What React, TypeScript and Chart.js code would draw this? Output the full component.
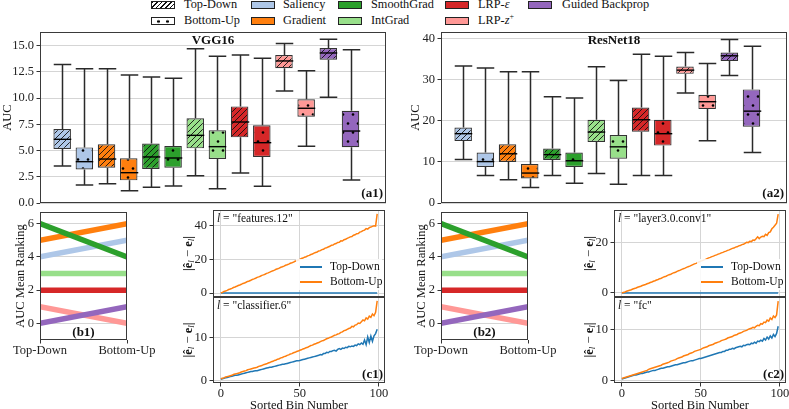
import React, { useEffect, useRef } from "react";
import { Chart, registerables } from "chart.js";

Chart.register(...registerables);

const FONT = "'Liberation Serif', 'Times New Roman', serif";
Chart.defaults.font.family = FONT;
Chart.defaults.font.size = 12;
Chart.defaults.color = "#222";

// ---------------- data ----------------
const legendLabels = ["Top-Down", "Bottom-Up", "Saliency", "Gradient", "SmoothGrad", "IntGrad", "LRP-ε", "LRP-z+", "Guided Backprop"];
const methods = ["Saliency", "Gradient", "SmoothGrad", "IntGrad", "LRP-ε", "LRP-z+", "Guided Backprop"];
const methodColors = ["#aec7e8", "#ff7f0e", "#2ca02c", "#98df8a", "#d62728", "#ff9896", "#9467bd"];

// box order: for each method Top-Down then Bottom-Up
const boxPositions = [1, 2, 3, 4, 5, 6, 7, 8, 9, 10, 11, 12, 13, 14];

const vggHigh = [13.2, 12.8, 12.8, 12.2, 12.0, 11.9, 14.7, 14.0, 14.1, 13.8, 15.2, 12.6, 15.6, 14.6];
const vggQ3 = [7.05, 5.3, 5.6, 4.26, 5.66, 5.43, 8.07, 6.93, 9.21, 7.4, 14.11, 9.88, 14.78, 8.8];
const vggMed = [6.07, 3.94, 4.19, 2.89, 4.39, 4.29, 6.45, 5.37, 7.72, 5.75, 13.54, 9.03, 14.3, 6.86];
const vggQ1 = [5.15, 3.2, 3.37, 2.16, 3.24, 3.37, 5.21, 4.19, 6.26, 4.39, 12.84, 8.23, 13.66, 5.31];
const vggLow = [3.53, 1.72, 1.84, 1.17, 1.49, 1.62, 2.6, 1.37, 2.86, 1.59, 10.68, 5.4, 10.08, 2.19];

const resHigh = [33.4, 32.9, 32.0, 32.0, 25.9, 25.6, 33.2, 29.9, 36.3, 35.8, 36.7, 34.0, 39.9, 38.2];
const resQ3 = [18.4, 12.3, 14.3, 9.5, 13.3, 12.3, 20.3, 16.6, 23.3, 20.3, 33.3, 26.4, 36.7, 27.7];
const resMed = [16.9, 10.1, 12.0, 7.3, 11.8, 10.3, 17.3, 13.7, 20.3, 16.9, 32.4, 24.7, 35.9, 22.4];
const resQ1 = [15.1, 8.8, 10.0, 6.0, 10.5, 8.8, 14.9, 10.8, 17.4, 14.0, 31.5, 22.9, 34.6, 18.6];
const resLow = [10.6, 6.7, 5.7, 3.8, 6.7, 4.8, 7.2, 4.6, 6.7, 6.7, 26.8, 15.2, 31.1, 12.3];

const vggYTicks = [0, 2.5, 5, 7.5, 10, 12.5, 15];
const resYTicks = [0, 10, 20, 30, 40];

// mean ranking (per method, in legend order)
const rankXLabels = ["Top-Down", "Bottom-Up"];
const vggRankTD = [4, 5, 6, 3, 2, 1, 0];
const vggRankBU = [5, 6, 4, 3, 2, 0, 1];
const resRankTD = [4, 5, 6, 3, 2, 1, 0];
const resRankBU = [5, 6, 4, 3, 2, 0, 1];
const rankYTicks = [0, 2, 4, 6];

// error curves per sorted bin
const bins = Array.from({ length: 100 }, (_, i) => i);
const binTicks = [0, 50, 100];

const vggFeatTD = [
  0, 0, 0, 0, 0, 0, 0, 0, 0, 0, 0, 0, 0, 0, 0, 0, 0, 0, 0, 0,
  0, 0, 0, 0, 0, 0, 0, 0, 0, 0, 0, 0, 0, 0, 0, 0, 0, 0, 0, 0,
  0, 0, 0, 0, 0, 0, 0, 0, 0, 0, 0, 0, 0, 0, 0, 0, 0, 0, 0, 0,
  0, 0, 0, 0, 0, 0, 0, 0, 0, 0, 0, 0, 0, 0, 0, 0, 0, 0, 0, 0,
  0, 0, 0, 0, 0, 0, 0, 0, 0, 0, 0, 0, 0, 0, 0, 0, 0, 0, 0, 0,
];
const vggFeatBU = [
  0.0, 0.4, 0.9, 1.2, 1.6, 2.1, 2.4, 2.8, 3.3, 3.6,
  4.0, 4.5, 4.8, 5.2, 5.7, 6.0, 6.4, 6.9, 7.2, 7.6,
  8.1, 8.4, 8.8, 9.3, 9.6, 10.0, 10.5, 10.8, 11.2, 11.7,
  12.0, 12.4, 12.9, 13.2, 13.6, 14.1, 14.4, 14.8, 15.3, 15.6,
  16.0, 16.5, 16.8, 17.2, 17.7, 18.0, 18.4, 18.9, 19.2, 19.6,
  20.0, 20.5, 20.8, 21.3, 21.6, 22.1, 22.4, 22.9, 23.2, 23.7,
  24.1, 24.4, 25.0, 25.2, 25.8, 26.0, 26.7, 26.9, 27.4, 27.8,
  28.4, 28.5, 29.2, 29.4, 30.1, 30.2, 31.0, 30.9, 31.7, 32.0,
  32.5, 32.9, 33.4, 33.6, 34.4, 34.6, 35.3, 35.4, 36.2, 36.5,
  37.1, 37.4, 38.3, 38.0, 38.9, 39.2, 39.6, 40.0, 39.8, 47.0,
];
const vggClsTD = [
  0.3, 0.4, 0.5, 0.6, 0.7, 0.8, 0.9, 1.0, 1.1, 1.2,
  1.2, 1.3, 1.4, 1.5, 1.6, 1.7, 1.8, 1.9, 2.0, 2.1,
  2.1, 2.2, 2.3, 2.3, 2.4, 2.5, 2.6, 2.7, 2.8, 2.9,
  3.0, 3.1, 3.1, 3.2, 3.3, 3.4, 3.5, 3.6, 3.7, 3.8,
  3.8, 3.9, 4.0, 4.1, 4.2, 4.3, 4.4, 4.5, 4.6, 4.6,
  4.7, 4.8, 4.9, 5.0, 5.1, 5.2, 5.3, 5.4, 5.5, 5.6,
  5.7, 5.8, 5.9, 6.1, 6.0, 6.3, 6.3, 6.6, 6.5, 6.8,
  6.8, 7.0, 7.1, 6.9, 7.3, 7.5, 7.3, 7.6, 7.5, 7.8,
  7.7, 8.0, 7.9, 8.1, 8.0, 8.3, 8.2, 8.6, 8.4, 8.8,
  8.5, 9.5, 8.4, 10.2, 8.9, 10.4, 9.2, 10.5, 11.0, 12.0,
];
const vggClsBU = [
  0.4, 0.5, 0.6, 0.8, 0.9, 1.0, 1.1, 1.2, 1.4, 1.5,
  1.6, 1.7, 1.8, 2.0, 2.1, 2.2, 2.3, 2.5, 2.6, 2.7,
  2.8, 2.9, 3.0, 3.1, 3.3, 3.4, 3.5, 3.7, 3.8, 3.9,
  4.1, 4.2, 4.4, 4.5, 4.7, 4.8, 5.0, 5.1, 5.3, 5.4,
  5.6, 5.7, 5.9, 6.0, 6.2, 6.3, 6.5, 6.6, 6.8, 6.9,
  7.1, 7.2, 7.4, 7.5, 7.7, 7.8, 8.0, 8.2, 8.3, 8.5,
  8.6, 8.8, 8.9, 9.1, 9.3, 9.4, 9.6, 9.8, 9.9, 10.1,
  10.2, 10.4, 10.6, 10.7, 10.9, 11.0, 11.3, 11.4, 11.7, 11.8,
  12.0, 12.2, 12.3, 12.7, 12.6, 13.0, 13.1, 13.5, 13.4, 13.8,
  14.2, 14.0, 14.7, 14.4, 15.1, 14.8, 15.6, 15.2, 16.0, 18.7,
];
const resConvTD = [
  0, 0, 0, 0, 0, 0, 0, 0, 0, 0, 0, 0, 0, 0, 0, 0, 0, 0, 0, 0,
  0, 0, 0, 0, 0, 0, 0, 0, 0, 0, 0, 0, 0, 0, 0, 0, 0, 0, 0, 0,
  0, 0, 0, 0, 0, 0, 0, 0, 0, 0, 0, 0, 0, 0, 0, 0, 0, 0, 0, 0,
  0, 0, 0, 0, 0, 0, 0, 0, 0, 0, 0, 0, 0, 0, 0, 0, 0, 0, 0, 0,
  0, 0, 0, 0, 0, 0, 0, 0, 0, 0, 0, 0, 0, 0, 0, 0, 0, 0, 0, 0,
];
const resConvBU = [
  0.0, 0.2, 0.4, 0.7, 0.9, 1.1, 1.3, 1.6, 1.8, 2.0,
  2.3, 2.5, 2.7, 3.0, 3.2, 3.4, 3.7, 3.9, 4.2, 4.4,
  4.7, 4.9, 5.2, 5.4, 5.7, 5.9, 6.2, 6.5, 6.7, 7.0,
  7.3, 7.5, 7.8, 8.1, 8.3, 8.6, 8.9, 9.1, 9.4, 9.7,
  9.9, 10.2, 10.5, 10.7, 11.0, 11.3, 11.6, 11.8, 12.1, 12.4,
  12.7, 12.9, 13.2, 13.4, 13.7, 14.0, 14.2, 14.5, 14.7, 15.0,
  15.2, 15.5, 15.7, 16.0, 16.2, 16.5, 16.7, 17.0, 17.2, 17.5,
  17.8, 17.9, 18.3, 18.4, 18.8, 18.9, 19.3, 19.4, 19.8, 20.2,
  20.1, 20.6, 20.5, 21.1, 21.0, 21.6, 22.4, 21.7, 22.3, 22.6,
  22.5, 23.4, 23.0, 24.1, 24.4, 25.6, 26.2, 27.0, 27.8, 31.5,
];
const resFcTD = [
  0.3, 0.4, 0.5, 0.6, 0.7, 0.8, 0.9, 1.0, 1.1, 1.1,
  1.2, 1.3, 1.4, 1.4, 1.5, 1.6, 1.7, 1.7, 1.8, 1.9,
  2.0, 2.0, 2.1, 2.2, 2.3, 2.4, 2.4, 2.5, 2.6, 2.7,
  2.7, 2.8, 2.9, 3.0, 3.1, 3.1, 3.2, 3.3, 3.4, 3.5,
  3.5, 3.6, 3.7, 3.8, 3.9, 3.9, 4.0, 4.1, 4.2, 4.3,
  4.3, 4.4, 4.5, 4.6, 4.7, 4.8, 4.9, 5.0, 5.1, 5.2,
  5.3, 5.4, 5.5, 5.5, 5.7, 5.7, 5.9, 5.9, 6.1, 6.1,
  6.3, 6.2, 6.4, 6.5, 6.6, 6.7, 6.6, 6.9, 6.8, 7.0,
  7.1, 7.0, 7.3, 7.2, 7.5, 7.3, 7.7, 7.6, 7.9, 7.7,
  8.2, 7.9, 8.5, 8.1, 8.7, 8.3, 9.0, 8.6, 9.2, 10.6,
];
const resFcBU = [
  0.4, 0.5, 0.6, 0.7, 0.8, 0.9, 1.0, 1.1, 1.2, 1.3,
  1.4, 1.5, 1.6, 1.7, 1.8, 1.9, 2.0, 2.2, 2.3, 2.4,
  2.5, 2.6, 2.7, 2.8, 2.9, 3.0, 3.2, 3.3, 3.4, 3.5,
  3.6, 3.8, 3.9, 4.0, 4.1, 4.3, 4.4, 4.5, 4.6, 4.8,
  4.9, 5.0, 5.1, 5.3, 5.4, 5.5, 5.7, 5.8, 5.9, 6.0,
  6.1, 6.3, 6.4, 6.5, 6.6, 6.8, 6.9, 7.0, 7.1, 7.3,
  7.4, 7.5, 7.6, 7.8, 7.9, 8.0, 8.1, 8.3, 8.4, 8.5,
  8.6, 8.8, 8.9, 9.0, 9.2, 9.3, 9.4, 9.6, 9.7, 9.8,
  10.0, 10.1, 10.2, 10.4, 10.3, 10.6, 10.8, 10.7, 11.1, 11.0,
  11.4, 11.3, 11.8, 11.6, 12.2, 11.9, 12.6, 12.3, 12.8, 15.5,
];

// ---------------- styling helpers ----------------
const GRID = "#d5d5d5";
const AXIS = "#333";
const TD_COLOR = "#1f77b4";
const BU_COLOR = "#ff7f0e";
const f = (size: number, weight: string = "normal") => ({ family: FONT, size, weight });

function hatchPattern(color: string) {
  const c = document.createElement("canvas");
  c.width = 6;
  c.height = 6;
  const g = c.getContext("2d")!;
  g.fillStyle = color;
  g.fillRect(0, 0, 6, 6);
  g.strokeStyle = "#111";
  g.lineWidth = 0.9;
  g.beginPath();
  g.moveTo(0, 6); g.lineTo(6, 0);
  g.moveTo(-1, 1); g.lineTo(1, -1);
  g.moveTo(5, 7); g.lineTo(7, 5);
  g.stroke();
  return g.createPattern(c, "repeat")!;
}

function dotPattern(color: string) {
  const c = document.createElement("canvas");
  c.width = 10;
  c.height = 18;
  const g = c.getContext("2d")!;
  g.fillStyle = color;
  g.fillRect(0, 0, 10, 18);
  g.fillStyle = "#000";
  g.beginPath(); g.arc(3, 4.5, 1.3, 0, Math.PI * 2); g.fill();
  g.beginPath(); g.arc(8, 13.5, 1.3, 0, Math.PI * 2); g.fill();
  return g.createPattern(c, "repeat")!;
}

const framePlugin = {
  id: "frame",
  afterDatasetsDraw(chart: any) {
    const { ctx, chartArea: a } = chart;
    ctx.save();
    ctx.strokeStyle = "#3a3a3a";
    ctx.lineWidth = 1;
    ctx.strokeRect(Math.round(a.left) + 0.5, Math.round(a.top) + 0.5, Math.round(a.right - a.left) - 1, Math.round(a.bottom - a.top) - 1);
    ctx.restore();
  },
};

type Part = { t: string; font: string; dy?: number };
type TextItem = { parts: Part[]; x: (a: any) => number; y: (a: any) => number; align: "left" | "right" | "center"; rotate?: boolean };

function textPlugin(items: TextItem[]) {
  return {
    id: "panelText",
    afterDraw(chart: any) {
      const { ctx, chartArea: a } = chart;
      items.forEach((it) => {
        ctx.save();
        ctx.fillStyle = "#111";
        ctx.textBaseline = "middle";
        ctx.textAlign = "left";
        const widths = it.parts.map((p) => { ctx.font = p.font; return ctx.measureText(p.t).width; });
        const total = widths.reduce((s, w) => s + w, 0);
        let x = 0;
        if (it.align === "center") x -= total / 2;
        else if (it.align === "right") x -= total;
        ctx.translate(it.x(a), it.y(a));
        if (it.rotate) ctx.rotate(-Math.PI / 2);
        it.parts.forEach((p, k) => { ctx.font = p.font; ctx.fillText(p.t, x, p.dy || 0); x += widths[k]; });
        ctx.restore();
      });
    },
  };
}

function lineLegendPlugin(entries: { label: string; color: string }[]) {
  return {
    id: "lineLegend",
    afterDatasetsDraw(chart: any) {
      const { ctx, chartArea: a } = chart;
      ctx.save();
      ctx.fillStyle = "rgba(255,255,255,0.85)";
      ctx.fillRect(a.right - 89, a.bottom - 38, 86, 31);
      entries.forEach((e, k) => {
        const y = a.bottom - 30 + k * 15;
        ctx.strokeStyle = e.color;
        ctx.lineWidth = 2;
        ctx.beginPath(); ctx.moveTo(a.right - 85, y); ctx.lineTo(a.right - 63, y); ctx.stroke();
        ctx.fillStyle = "#111";
        ctx.font = `11.5px ${FONT}`;
        ctx.textBaseline = "middle";
        ctx.fillText(e.label, a.right - 55, y);
      });
      ctx.restore();
    },
  };
}

function boxWhiskerPlugin(pos: number[], low: number[], q1: number[], med: number[], q3: number[], high: number[], width: number) {
  return {
    id: "boxWhiskers",
    afterDatasetsDraw(chart: any) {
      const { ctx } = chart;
      const xs = chart.scales.x;
      const ys = chart.scales.y;
      const half = Math.abs(xs.getPixelForValue(width) - xs.getPixelForValue(0)) / 2;
      ctx.save();
      pos.forEach((p, i) => {
        const cx = Math.round(xs.getPixelForValue(p)) + 0.5;
        const yL = ys.getPixelForValue(low[i]);
        const y1 = ys.getPixelForValue(q1[i]);
        const yM = ys.getPixelForValue(med[i]);
        const y3 = ys.getPixelForValue(q3[i]);
        const yH = ys.getPixelForValue(high[i]);
        ctx.strokeStyle = "#2a2a2a";
        ctx.lineWidth = 1.5;
        ctx.beginPath();
        ctx.moveTo(cx, y3); ctx.lineTo(cx, yH);
        ctx.moveTo(cx, y1); ctx.lineTo(cx, yL);
        ctx.moveTo(cx - half, yH); ctx.lineTo(cx + half, yH);
        ctx.moveTo(cx - half, yL); ctx.lineTo(cx + half, yL);
        ctx.stroke();
        ctx.strokeStyle = "#000";
        ctx.lineWidth = 1.4;
        ctx.beginPath(); ctx.moveTo(cx - half, yM); ctx.lineTo(cx + half, yM); ctx.stroke();
      });
      ctx.restore();
    },
  };
}

function yAxis(o: { min: number; max: number; ticks: number[]; fmt?: (v: number) => string; width: number; title: string; titlePad: number; showTitle?: boolean }) {
  return {
    type: "linear",
    min: o.min,
    max: o.max,
    afterFit: (s: any) => { s.width = o.width; },
    afterBuildTicks: (s: any) => { s.ticks = o.ticks.map((v) => ({ value: v })); },
    ticks: { callback: (v: any) => (o.fmt ? o.fmt(v) : String(v)), padding: 2.5, font: f(12.5), color: "#222" },
    grid: { color: GRID, lineWidth: 1, tickColor: AXIS, tickLength: 3.5, drawTicks: true },
    border: { display: false },
    title: { display: o.showTitle !== false, text: o.title, font: f(12.5), color: "#111", padding: { top: o.titlePad, bottom: 0 } },
  };
}

const BOX_W = 0.79;

function boxConfig(p: any) {
  const fills = boxPositions.map((_, i) => (i % 2 === 0 ? hatchPattern(methodColors[Math.floor(i / 2)]) : dotPattern(methodColors[Math.floor(i / 2)])));
  return {
    type: "bar",
    data: {
      datasets: [
        {
          data: boxPositions.map((x, i) => ({ x, y: [p.q1[i], p.q3[i]] })),
          backgroundColor: fills,
          borderColor: "#333",
          borderWidth: 1.2,
          borderSkipped: false,
          barPercentage: 1,
          categoryPercentage: BOX_W,
        },
      ],
    },
    options: {
      responsive: false,
      animation: false,
      events: [],
      layout: { padding: { left: 0, top: 12, right: 10, bottom: 12 } },
      plugins: { legend: { display: false }, tooltip: { enabled: false } },
      scales: {
        x: {
          type: "linear", display: false, min: 0, max: 15.6, offset: false,
          afterBuildTicks: (s: any) => { s.ticks = boxPositions.map((v) => ({ value: v })); },
        },
        y: yAxis({ min: 0, max: p.yMax, ticks: p.yTicks, fmt: p.fmt, width: p.yW, title: "AUC", titlePad: p.titlePad }),
      },
    },
    plugins: [
      boxWhiskerPlugin(boxPositions, p.low, p.q1, p.med, p.q3, p.high, BOX_W),
      framePlugin,
      textPlugin([
        { parts: [{ t: p.title, font: `bold 13px ${FONT}` }], x: (a) => (a.left + a.right) / 2, y: (a) => a.top + 8.5, align: "center" },
        { parts: [{ t: p.tag, font: `bold 13px ${FONT}` }], x: (a) => a.right - 3, y: (a) => a.bottom - 9, align: "right" },
      ]),
    ],
  };
}

function rankConfig(td: number[], bu: number[], tag: string, yW: number, titlePad: number) {
  return {
    type: "line",
    data: {
      datasets: methods.map((m, i) => ({
        label: m,
        data: [{ x: 0, y: td[i] }, { x: 1, y: bu[i] }],
        borderColor: methodColors[i],
        borderWidth: 5.5,
        pointRadius: 0,
        borderCapStyle: "butt",
        order: 6 - i,
      })),
    },
    options: {
      responsive: false,
      animation: false,
      events: [],
      layout: { padding: { left: 0, top: 12, right: 43, bottom: 0 } },
      plugins: { legend: { display: false }, tooltip: { enabled: false } },
      scales: {
        x: {
          type: "linear", min: 0, max: 1,
          afterBuildTicks: (s: any) => { s.ticks = [{ value: 0 }, { value: 1 }]; },
          afterFit: (s: any) => { s.height = 30; },
          ticks: { callback: (_v: any, i: number) => rankXLabels[i], padding: 0, maxRotation: 0, autoSkip: false, font: f(12.5), color: "#222" },
          grid: { drawOnChartArea: false, tickColor: AXIS, tickLength: 3.5 },
          border: { display: false },
        },
        y: yAxis({ min: -1, max: 6.7, ticks: rankYTicks, width: yW, title: "AUC Mean Ranking", titlePad }),
      },
    },
    plugins: [
      framePlugin,
      textPlugin([{ parts: [{ t: tag, font: `bold 13px ${FONT}` }], x: (a) => (a.left + a.right) / 2, y: (a) => a.bottom - 7.5, align: "center" }]),
    ],
  };
}

function errTitleParts(): Part[] {
  const big = `bold 12.5px ${FONT}`;
  const sub = `italic 9px ${FONT}`;
  return [
    { t: "|ê", font: big },
    { t: "l", font: sub, dy: 3 },
    { t: " − ", font: `12.5px ${FONT}` },
    { t: "e", font: big },
    { t: "l", font: sub, dy: 3 },
    { t: "|", font: big },
  ];
}

function errConfig(o: any) {
  const texts: TextItem[] = [
    {
      parts: [
        { t: "l", font: `italic 11.5px ${FONT}` },
        { t: ` = "${o.layer}"`, font: `11.5px ${FONT}` },
      ],
      x: (a) => a.left + 4,
      y: (a) => a.top + 8.5,
      align: "left",
    },
    { parts: errTitleParts(), x: (a) => a.left - 24, y: (a) => (a.top + a.bottom) / 2, align: "center", rotate: true },
  ];
  if (o.tag) texts.push({ parts: [{ t: o.tag, font: `bold 13px ${FONT}` }], x: (a) => a.right - 2, y: (a) => a.bottom - 8.5, align: "right" });
  const plugins: any[] = [framePlugin, textPlugin(texts)];
  if (o.legend) plugins.push(lineLegendPlugin([{ label: "Top-Down", color: TD_COLOR }, { label: "Bottom-Up", color: BU_COLOR }]));
  return {
    type: "line",
    data: {
      datasets: [
        { label: "Bottom-Up", data: o.bu.map((v: number, i: number) => ({ x: bins[i], y: v })), borderColor: BU_COLOR, borderWidth: 1.5, pointRadius: 0, tension: 0, order: 0 },
        { label: "Top-Down", data: o.td.map((v: number, i: number) => ({ x: bins[i], y: v })), borderColor: TD_COLOR, borderWidth: 1.5, pointRadius: 0, tension: 0, order: 1 },
      ],
    },
    options: {
      responsive: false,
      animation: false,
      events: [],
      layout: { padding: { left: 0, top: 12, right: 10, bottom: o.showX ? 0 : 12 } },
      plugins: { legend: { display: false }, tooltip: { enabled: false } },
      scales: {
        x: {
          type: "linear", min: -4.95, max: 103.95,
          afterBuildTicks: (s: any) => { s.ticks = binTicks.map((v) => ({ value: v })); },
          afterFit: (s: any) => { s.height = o.showX ? 34 : 0; },
          ticks: { display: o.showX, padding: 0, maxRotation: 0, autoSkip: false, font: f(12.5), color: "#222" },
          grid: { color: GRID, tickColor: AXIS, tickLength: 3.5, drawTicks: o.showX },
          border: { display: false },
          title: { display: o.showX, text: "Sorted Bin Number", font: f(12.5), color: "#111", padding: { top: 0, bottom: 4 } },
        },
        y: yAxis({ min: o.yMin, max: o.yMax, ticks: o.yTicks, width: 42, title: "", titlePad: 0, showTitle: false }),
      },
    },
    plugins,
  };
}

// ---------------- components ----------------
function ChartBox({ left, top, width, height, build }: { left: number; top: number; width: number; height: number; build: () => any }) {
  const ref = useRef<HTMLCanvasElement>(null);
  useEffect(() => {
    const chart = new Chart(ref.current as HTMLCanvasElement, build());
    return () => chart.destroy();
  }, []);
  return <canvas ref={ref} width={width} height={height} style={{ position: "absolute", left, top, width, height }} />;
}

const legendSwatchX = [151, 250.5, 338, 444.5, 528];
const legendTextX = [184, 283, 371, 478, 562];
const legendRowY = [4.5, 20.5];

function renderLabel(lab: string) {
  if (lab === "LRP-ε") return <>LRP-<i>ε</i></>;
  if (lab === "LRP-z+") return <>LRP-<i>z</i><span style={{ position: "relative", top: -5, fontSize: 8 }}>+</span></>;
  return lab;
}

function TopLegend() {
  return (
    <>
      {legendLabels.map((lab, i) => {
        const col = Math.floor(i / 2);
        const row = i % 2;
        const cy = legendRowY[row];
        let bg: any;
        if (i === 0) bg = { background: "repeating-linear-gradient(-45deg, #fff 0px, #fff 2.3px, #111 2.3px, #111 3.3px)" };
        else if (i === 1) bg = { backgroundColor: "#fff", backgroundImage: "radial-gradient(circle, #000 1.1px, transparent 1.6px)", backgroundSize: "9px 8px", backgroundPosition: "2px -0.5px" };
        else bg = { background: methodColors[i - 2] };
        return (
          <React.Fragment key={lab}>
            <div style={{ position: "absolute", left: legendSwatchX[col], top: cy - 4, width: 24, height: 8, boxSizing: "border-box", border: "1px solid #222", ...bg }} />
            <div style={{ position: "absolute", left: legendTextX[col], top: cy - 8, fontSize: 12.3, lineHeight: "15px", whiteSpace: "nowrap", color: "#111" }}>{renderLabel(lab)}</div>
          </React.Fragment>
        );
      })}
    </>
  );
}

export default function App() {
  return (
    <div style={{ position: "fixed", left: 0, top: 0, width: 789, height: 409, overflow: "hidden", background: "#fff", fontFamily: FONT }}>
      <TopLegend />
      <ChartBox left={0} top={20} width={396} height={195}
        build={() => boxConfig({ high: vggHigh, q3: vggQ3, med: vggMed, q1: vggQ1, low: vggLow, yMax: 16.3, yTicks: vggYTicks, fmt: (v: number) => v.toFixed(1), yW: 40, titlePad: 0, title: "VGG16", tag: "(a1)" })} />
      <ChartBox left={395} top={20} width={402} height={195}
        build={() => boxConfig({ high: resHigh, q3: resQ3, med: resMed, q1: resQ1, low: resLow, yMax: 41.7, yTicks: resYTicks, yW: 46, titlePad: 13, title: "ResNet18", tag: "(a2)" })} />
      <ChartBox left={0} top={200} width={170} height={170} build={() => rankConfig(vggRankTD, vggRankBU, "(b1)", 40, 13.5)} />
      <ChartBox left={395} top={200} width={176} height={170} build={() => rankConfig(resRankTD, resRankBU, "(b2)", 46, 19.5)} />
      <ChartBox left={171} top={198} width={224} height={111}
        build={() => errConfig({ td: vggFeatTD, bu: vggFeatBU, yMin: -2.35, yMax: 49.35, yTicks: [0, 20, 40], showX: false, layer: "features.12", legend: true })} />
      <ChartBox left={171} top={285} width={224} height={132}
        build={() => errConfig({ td: vggClsTD, bu: vggClsBU, yMin: -0.6, yMax: 19.6, yTicks: [0, 10], showX: true, layer: "classifier.6", tag: "(c1)" })} />
      <ChartBox left={572} top={198} width={224} height={111}
        build={() => errConfig({ td: resConvTD, bu: resConvBU, yMin: -1.6, yMax: 33.1, yTicks: [0, 20], showX: false, layer: "layer3.0.conv1", legend: true })} />
      <ChartBox left={572} top={285} width={224} height={132}
        build={() => errConfig({ td: resFcTD, bu: resFcBU, yMin: -0.46, yMax: 16.3, yTicks: [0, 10], showX: true, layer: "fc", tag: "(c2)" })} />
    </div>
  );
}
